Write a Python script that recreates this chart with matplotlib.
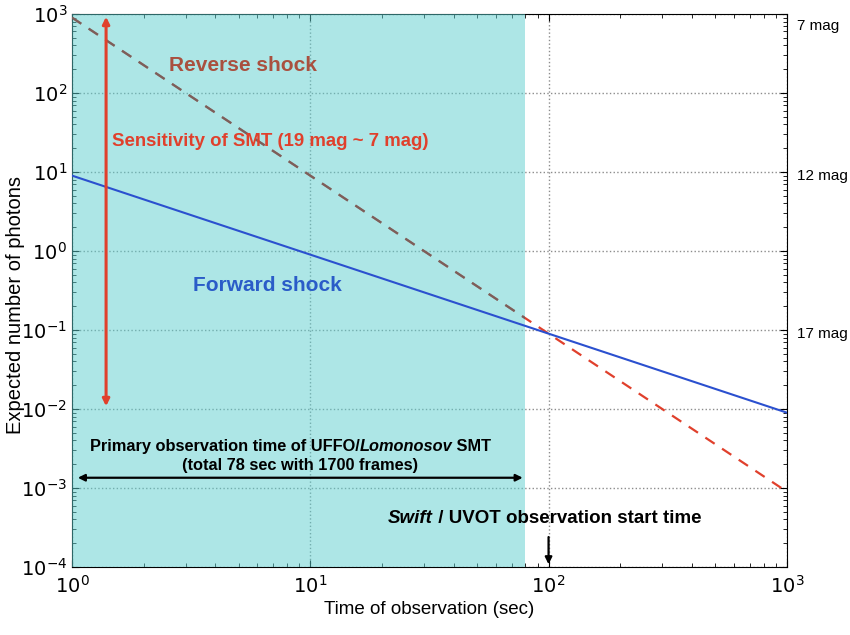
import matplotlib.pyplot as plt
from matplotlib.patches import FancyArrowPatch

plt.rcParams['font.family'] = ['Liberation Sans', 'DejaVu Sans']
plt.rcParams['mathtext.fontset'] = 'dejavusans'

# Light curves (expected photons vs time)
t_line = [1, 1000]
forward_shock = [9.0, 0.009]
reverse_shock = [900.0, 0.0009]

# observation windows
smt_window = [1.0, 80.0]
swift_start = 100.0
smt_arrow_t = 1.39
smt_sensitivity = [0.01, 1000.0]

mag_labels = ["7 mag", "12 mag", "17 mag"]
mag_levels = [1000.0, 10.0, 0.1]

fig = plt.figure(figsize=(8.5, 6.35), dpi=100)
ax = fig.add_axes([0.0847, 0.107, 0.841, 0.871])
ax.set_xscale('log')
ax.set_yscale('log')
ax.set_xlim(1, 1000)
ax.set_ylim(1e-4, 1e3)

red = '#e0402c'
blue = '#2b50cf'

ax.plot(t_line, reverse_shock, '--', color=red, lw=1.6, dashes=(5, 4), zorder=2)
span = ax.axvspan(smt_window[0], smt_window[1], color='#5ccfcf', alpha=0.5, lw=0, zorder=3)
# darker look of the reverse shock inside the shaded window
inside, = ax.plot(t_line, reverse_shock, '--', color='#7d5e5a', lw=1.6, dashes=(5, 4), zorder=3.2)
inside.set_clip_path(span)
ax.plot(t_line, forward_shock, '-', color=blue, lw=1.5, zorder=4)

ax.grid(True, which='major', ls=':', color='#8c8c8c', lw=1.0)
for gl in ax.get_xgridlines() + ax.get_ygridlines():
    gl.set_zorder(3.5)

ax.tick_params(which='both', direction='in', top=True, right=True, labelsize=14)
ax.tick_params(which='major', length=5)
ax.tick_params(which='minor', length=3)
ax.tick_params(axis='x', pad=6)
for lab in ax.get_xticklabels() + ax.get_yticklabels():
    lab.set_fontfamily('DejaVu Sans')

ax.set_xlabel("Time of observation (sec)", fontsize=13.5, labelpad=3)
ax.set_ylabel("Expected number of photons", fontsize=14.5)
ax.yaxis.set_label_coords(-0.066, 0.474)

# sensitivity arrow
ax.add_patch(FancyArrowPatch((smt_arrow_t, smt_sensitivity[0]), (smt_arrow_t, smt_sensitivity[1]),
                             arrowstyle='<|-|>', mutation_scale=10, color=red, lw=2.2, zorder=6))
# primary observation arrow
ax.add_patch(FancyArrowPatch((1.03, 1.35e-3), (smt_window[1], 1.35e-3),
                             arrowstyle='<|-|>', mutation_scale=10, color='black', lw=1.6, zorder=6))
# swift start arrow
ax.add_patch(FancyArrowPatch((swift_start, 2.6e-4), (swift_start, 1e-4),
                             arrowstyle='-|>', mutation_scale=10, color='black', lw=1.6, zorder=6))

ax.text(5.2, 224, "Reverse shock", color='#a9503f', fontsize=15, fontweight='bold',
        ha='center', va='center', zorder=7)
ax.text(1.47, 24, "Sensitivity of SMT (19 mag ~ 7 mag)", color=red, fontsize=13.4,
        fontweight='bold', ha='left', va='center', zorder=7)
ax.text(6.6, 0.37, "Forward shock", color='#2a5cc8', fontsize=15, fontweight='bold',
        ha='center', va='center', zorder=7)

bold = dict(fontsize=11.8, fontweight='bold', zorder=7)
p1 = ax.text(1.19, 10**-2.47, "Primary observation time of UFFO/", ha='left', va='center', **bold)
p2 = ax.annotate("Lomonosov", xy=(1, 0), xycoords=p1, ha='left', va='bottom', style='italic', **bold)
ax.annotate(" SMT", xy=(1, 0), xycoords=p2, ha='left', va='bottom', **bold)
ax.text(9.05, 10**-2.72, "(total 78 sec with 1700 frames)", ha='center', va='center', **bold)

big = dict(fontsize=13.5, fontweight='bold', zorder=7)
s1 = ax.text(21.2, 10**-3.38, "Swift", ha='left', va='center', style='italic', **big)
ax.annotate(" / UVOT observation start time", xy=(1, 0), xycoords=s1, ha='left', va='bottom', **big)

for lab, lev in zip(mag_labels, mag_levels):
    ax.annotate(lab, xy=(1.0, lev), xycoords=('axes fraction', 'data'),
                xytext=(10, -12 if lev == 1000.0 else -4), textcoords='offset pixels',
                fontsize=11, ha='left', va='center')

fig.savefig('out.png', dpi=100)
